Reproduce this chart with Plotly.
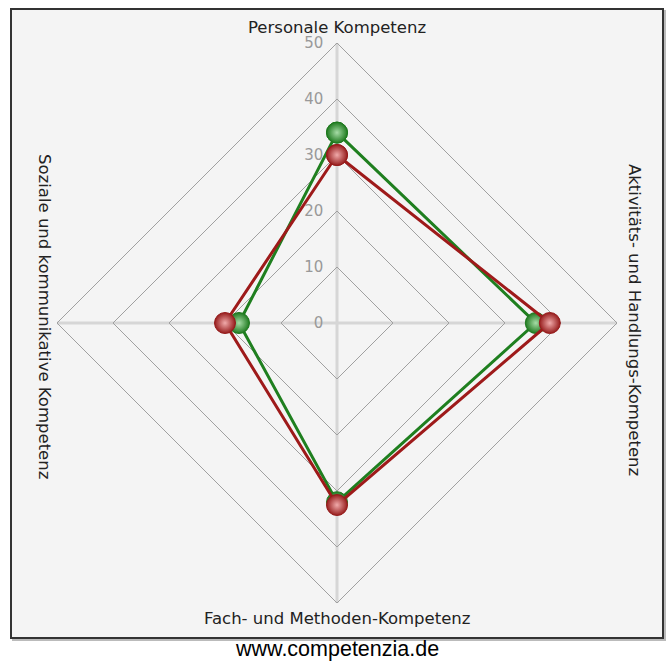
import plotly.graph_objects as go

categories = ["Personale Kompetenz", "Aktivitäts- und Handlungs-Kompetenz",
              "Fach- und Methoden-Kompetenz", "Soziale und kommunikative Kompetenz"]
green_values = [34, 35.5, 32, 17.5]
red_values = [30, 38, 32.5, 20]
tick_values = [0, 10, 20, 30, 40, 50]

W, H = 668, 662
cx, cy, R = 337, 323, 280

def closed(v):
    return v + v[:1]

fig = go.Figure()

series = [
    ("green", green_values, "#1f7f1f", "#a6dca6", "#1f7a1f"),
    ("red", red_values, "#9e1a1a", "#f0aaaa", "#961c1c"),
]
for name, vals, lc, c_light, c_dark in series:
    fig.add_trace(go.Scatterpolar(
        r=closed(vals), theta=closed(categories), name=name,
        mode="lines+markers",
        line=dict(color=lc, width=3),
        marker=dict(size=21, color=c_dark, gradient=dict(type="radial", color=c_light),
                    line=dict(color=c_dark, width=1)),
        showlegend=False, hoverinfo="skip",
    ))

# background box
fig.add_shape(type="rect", xref="paper", yref="paper",
              x0=13 / W, x1=665 / W, y0=1 - 640 / H, y1=1 - 11 / H,
              line=dict(color="#bbbbbb", width=2), fillcolor="rgba(0,0,0,0)", layer="below")
fig.add_shape(type="rect", xref="paper", yref="paper",
              x0=11 / W, x1=663 / W, y0=1 - 638 / H, y1=1 - 9 / H,
              line=dict(color="#333333", width=2), fillcolor="#f4f4f4", layer="below")

fig.update_layout(
    width=W, height=H,
    margin=dict(l=0, r=0, t=0, b=0),
    paper_bgcolor="white",
    polar=dict(
        domain=dict(x=[(cx - R) / W, (cx + R) / W], y=[1 - (cy + R) / H, 1 - (cy - R) / H]),
        bgcolor="#f4f4f4",
        gridshape="linear",
        radialaxis=dict(range=[0, 50], tickvals=tick_values, ticktext=[str(t) for t in tick_values],
                        angle=90, side="counterclockwise", tickangle=90, showline=False,
                        ticks="outside", ticklen=8, tickcolor="rgba(0,0,0,0)",
                        gridcolor="#a0a0a0", gridwidth=1,
                        tickfont=dict(family="DejaVu Sans", size=15, color="#999999")),
        angularaxis=dict(rotation=90, direction="clockwise", showticklabels=False, ticks="",
                         gridcolor="#d6d6d6", gridwidth=3,
                         showline=True, linecolor="#a0a0a0", linewidth=1),
    ),
)

lab_font = dict(family="DejaVu Sans", size=16.5, color="#222222")
ann = dict(xref="paper", yref="paper", showarrow=False, xanchor="center", yanchor="middle")
fig.add_annotation(x=cx / W, y=1 - 28 / H, text=categories[0], font=lab_font, **ann)
fig.add_annotation(x=635 / W, y=1 - 320 / H, text=categories[1], font=lab_font, textangle=90, **ann)
fig.add_annotation(x=cx / W, y=1 - 618 / H, text=categories[2], font=lab_font, **ann)
fig.add_annotation(x=45 / W, y=1 - 316 / H, text=categories[3], font=lab_font, textangle=90, **ann)
fig.add_annotation(x=cx / W, y=1 - 649 / H, text="www.competenzia.de",
                   font=dict(family="Liberation Sans", size=21.5, color="#000000"), **ann)

fig.write_html("out.html", config={"displayModeBar": False},
               post_script="document.body.style.margin='0px';")
